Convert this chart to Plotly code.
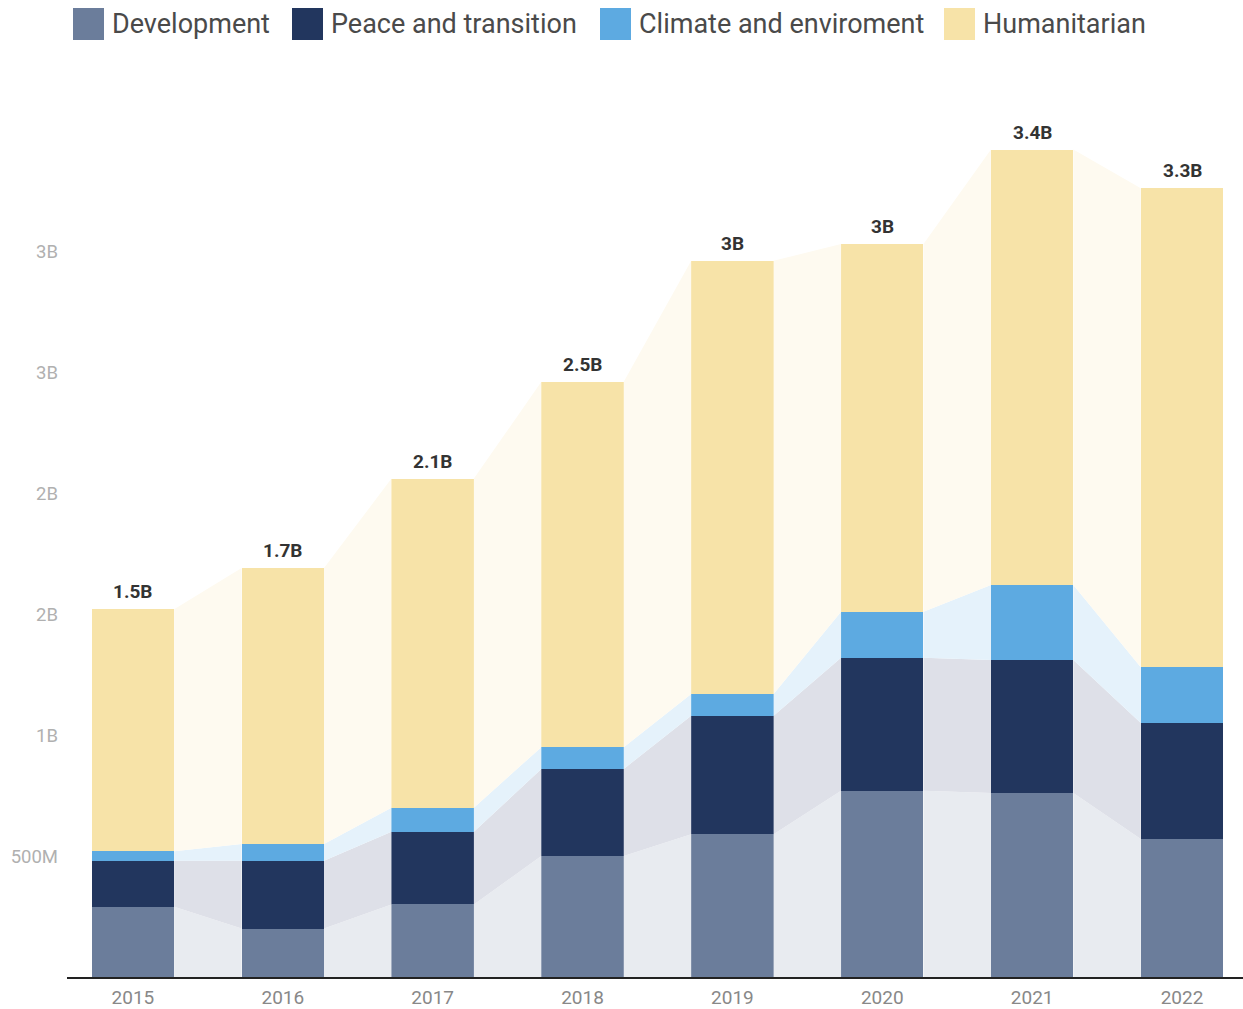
import plotly.graph_objects as go

# Funding by year, in billions
years = ["2015", "2016", "2017", "2018", "2019", "2020", "2021", "2022"]
development = [0.29, 0.20, 0.30, 0.50, 0.59, 0.77, 0.76, 0.57]
peace = [0.19, 0.28, 0.30, 0.36, 0.49, 0.55, 0.55, 0.48]
climate = [0.04, 0.07, 0.10, 0.09, 0.09, 0.19, 0.31, 0.23]
humanitarian = [1.00, 1.14, 1.36, 1.51, 1.79, 1.52, 1.80, 1.98]

y_tick_vals = [0.5, 1.0, 1.5, 2.0, 2.5, 3.0]
y_tick_text = ["500M", "1B", "2B", "2B", "3B", "3B"]

series = [
    ("Development", development, "#6b7d9b", "#e8ebf0"),
    ("Peace and transition", peace, "#22365e", "#dee0e8"),
    ("Climate and enviroment", climate, "#5daae1", "#e5f2fb"),
    ("Humanitarian", humanitarian, "#f7e3a8", "#fefaf0"),
]

BAR_W = 0.55
xs = list(range(len(years)))

fig = go.Figure()

# Shaded bands joining each segment to the same segment of the next bar
base = [0.0] * len(years)
for name, vals, color, light in series:
    top = [b + v for b, v in zip(base, vals)]
    px, py = [], []
    for i in range(len(years) - 1):
        x0 = xs[i] + BAR_W / 2
        x1 = xs[i + 1] - BAR_W / 2
        px += [x0, x1, x1, x0, x0, None]
        py += [top[i], top[i + 1], base[i + 1], base[i], top[i], None]
    fig.add_trace(go.Scatter(
        x=px, y=py, mode="lines", fill="toself", fillcolor=light,
        line=dict(width=0, color=light), hoverinfo="skip", showlegend=False,
    ))
    base = top

# Stacked bars
for name, vals, color, light in series:
    fig.add_trace(go.Bar(
        x=xs, y=vals, name=name, width=BAR_W,
        marker=dict(color=color, line=dict(width=0)),
        showlegend=False,
    ))

totals = [d + p + c + h for d, p, c, h in zip(development, peace, climate, humanitarian)]

annotations = []
for x, t in zip(xs, totals):
    annotations.append(dict(
        x=x, y=t, xref="x", yref="y", text=f"{t:.2g}B", showarrow=False,
        xanchor="center", yanchor="bottom", yshift=4,
        font=dict(family="Roboto", size=19, color="#333333", weight="bold"),
    ))

# Legend drawn as large swatches along the top
PLOT_L, PLOT_W, PLOT_B, PLOT_H = 67, 1176, 977, 871


def paper_x(p):
    return (p - PLOT_L) / PLOT_W


def paper_y(p):
    return (PLOT_B - p) / PLOT_H


shapes = []
legend_left = [73, 292, 600, 944]
for (name, vals, color, light), left in zip(series, legend_left):
    shapes.append(dict(
        type="rect", xref="paper", yref="paper",
        x0=paper_x(left), x1=paper_x(left + 31),
        y0=paper_y(40), y1=paper_y(8),
        fillcolor=color, line=dict(width=0),
    ))
    annotations.append(dict(
        x=paper_x(left + 37), y=paper_y(24), xref="paper", yref="paper",
        text=name, showarrow=False, xanchor="left", yanchor="middle",
        font=dict(family="Roboto", size=27, color="#4a4a4a"),
    ))

fig.update_layout(
    width=1243, height=1009,
    margin=dict(l=67, r=0, t=106, b=32),
    plot_bgcolor="white", paper_bgcolor="white",
    barmode="stack", bargap=0,
    font=dict(family="Roboto"),
    xaxis=dict(
        range=[-0.44, 7.407], tickvals=xs, ticktext=years,
        showgrid=False, zeroline=False, showline=True,
        linecolor="#222222", linewidth=2, ticks="",
        ticklabelstandoff=2,
        tickfont=dict(family="Roboto", size=19, color="#888888"),
        fixedrange=True,
    ),
    yaxis=dict(
        range=[0, 3.6], tickvals=y_tick_vals, ticktext=y_tick_text,
        showgrid=False, zeroline=False, showline=False, ticks="",
        ticklabelstandoff=8,
        tickfont=dict(family="Roboto", size=18.5, color="#b0b0b0"),
        fixedrange=True,
    ),
    annotations=annotations,
    shapes=shapes,
    showlegend=False,
)

fig.write_html("out.html")
